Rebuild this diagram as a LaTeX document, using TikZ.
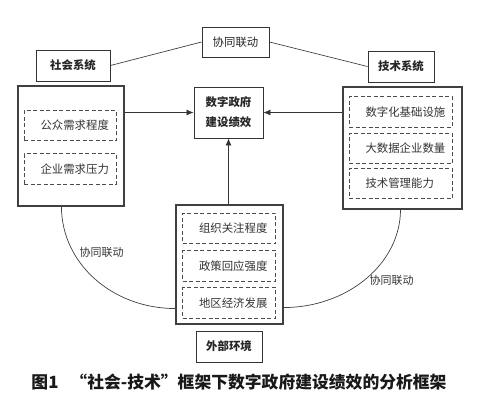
\documentclass[tikz,border=0pt]{standalone}
\usepackage{fontspec}
\setmainfont{Noto Sans CJK SC}
\usetikzlibrary{positioning, arrows.meta, calc}

\begin{document}
\begin{tikzpicture}[ x=1pt, y=1pt, node distance=5pt, label/.style={ rectangle, draw=black!80, line width=0.9pt, text=black!85, inner sep=0pt, font=\fontsize{11.4}{20}\selectfont\bfseries }, sysbox/.style={ rectangle, draw=black!75, line width=1.1pt, inner sep=0pt }, itembox/.style={ rectangle, draw=black!70, dashed, dash pattern=on 4pt off 2.5pt, line width=0.8pt, text=black!80, inner sep=0pt, text width=#1, align=left, minimum height=30.5pt, font=\fontsize{11.4}{14}\selectfont }, arrow/.style={ -{Latex[length=7pt, width=6pt]}, line width=0.8pt, draw=black!80 }, link/.style={ line width=0.7pt, draw=black!75 }, linkLabel/.style={ text=black!80, font=\fontsize{11}{13}\selectfont } ]
\useasboundingbox (0,0) rectangle (500,408);

% --- Centro ---
\node[label, minimum width=69pt, minimum height=51pt, align=center, font=\fontsize{11.4}{20}\selectfont\bfseries] (perf) at (228.5,295.5) {数字政府\\建设绩效};

% --- Sistema sociale ---
\node[sysbox, minimum width=106pt, minimum height=120pt] (socialsys) at (71,262) {};
\node[label, minimum width=74pt, minimum height=31pt] (socialtitle) at (73,342.5) {社会系统};
\node[itembox=81pt, minimum width=92pt] (publicneed) at (70,282.5) {\hspace*{11pt}公众需求程度};
\node[itembox=81pt, minimum width=92pt, below=12pt of publicneed] (firmneed) {\hspace*{11pt}企业需求压力};

% --- Sistema tecnico ---
\node[sysbox, minimum width=119pt, minimum height=122pt] (techsys) at (402.5,260) {};
\node[label, minimum width=66pt, minimum height=31pt] (techtitle) at (401,341.5) {技术系统};
\node[itembox=92pt, minimum width=103pt] (infra) at (400.5,296) {\hspace*{11pt}数字化基础设施};
\node[itembox=92pt, minimum width=103pt, below=of infra] (bigdata) {\hspace*{11pt}大数据企业数量};
\node[itembox=92pt, minimum width=103pt, below=4pt of bigdata] (techmgmt) {\hspace*{11pt}技术管理能力};

% --- Ambiente esterno ---
\node[sysbox, minimum width=107pt, minimum height=119pt] (envsys) at (229.5,143.5) {};
\node[label, minimum width=66pt, minimum height=31pt] (envtitle) at (229,61.5) {外部环境};
\node[itembox=82pt, minimum width=93pt] (orgfocus) at (229,179.5) {\hspace*{11pt}组织关注程度};
\node[itembox=82pt, minimum width=93pt, below=6pt of orgfocus] (policy) {\hspace*{11pt}政策回应强度};
\node[itembox=82pt, minimum width=93pt, below=6pt of policy] (economy) {\hspace*{11pt}地区经济发展};

% --- Coordinamento ---
\node[label, minimum width=67pt, minimum height=30pt, font=\fontsize{11.4}{14}\selectfont] (synctop) at (235.5,366) {协同联动};
\draw[link] (socialtitle.east) -- (synctop.west);
\draw[link] (synctop.east) -- (techtitle.west);
\draw[link] ($(socialsys.south west)+(44pt,0)$) .. controls +(0,-57) and +(-63,0) .. ($(envsys.south west)+(0,16pt)$);
\draw[link] ($(techsys.south)+(-2pt,0)$) .. controls +(0,-54) and +(64,0) .. ($(envsys.south east)+(0,17pt)$);
\node[linkLabel] (syncleft) at (101.5,156) {协同联动};
\node[linkLabel] (syncright) at (391.5,128) {协同联动};

% --- Frecce ---
\draw[arrow] (socialsys.east |- perf.west) -- (perf.west);
\draw[arrow] (techsys.west |- perf.east) -- (perf.east);
\draw[arrow] (envsys.north -| perf.south) -- (perf.south);

% --- Didascalia ---
\node[font=\fontsize{16.8}{18}\selectfont\bfseries, text=black!90] (caption) at (239,26) {图1\hspace{12pt}“社会-技术”框架下数字政府建设绩效的分析框架};
\end{tikzpicture}
\end{document}
